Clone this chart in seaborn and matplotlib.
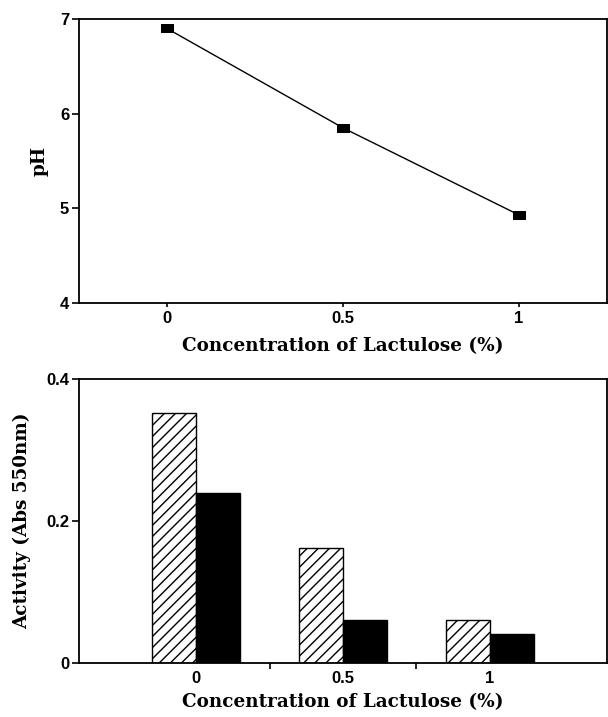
import matplotlib
matplotlib.use("Agg")
import matplotlib.pyplot as plt
import seaborn as sns
import pandas as pd

# ---- data ----
conc_values = [0, 0.5, 1]
ph_values = [6.9, 5.85, 4.93]

conc_labels = ["0", "0.5", "1"]
series_names = ["Hatched", "Solid"]
activity_hatched = [0.352, 0.162, 0.061]
activity_solid = [0.240, 0.061, 0.041]

ph_ticks = [4, 5, 6, 7]
act_ticks = [0, 0.2, 0.4]
act_tick_labels = ["0", "0.2", "0.4"]

sns.set_theme(style="white")
plt.rcParams["hatch.linewidth"] = 1.0
plt.rcParams["font.family"] = ["DejaVu Sans"]

TICK_FONT = dict(family="Liberation Sans", weight="bold", size=12)
LABEL_FONT = dict(family="DejaVu Serif", size=13.2, weight="semibold", color="black")

fig = plt.figure(figsize=(6.08, 7.17), dpi=100)
ax1 = fig.add_axes([0.1299, 0.5774, 0.8684, 0.3961])
ax2 = fig.add_axes([0.1299, 0.0753, 0.8684, 0.3961])

# ---- top: pH line ----
df_ph = pd.DataFrame({"conc": conc_values, "ph": ph_values})
rect = [(-1, -0.72), (1, -0.72), (1, 0.72), (-1, 0.72), (-1, -0.72)]
sns.lineplot(data=df_ph, x="conc", y="ph", ax=ax1, color="black", linewidth=1.0,
             marker=rect, markersize=8.5, markeredgecolor="black",
             markerfacecolor="black")
ax1.set_xlim(-0.25, 1.25)
ax1.set_ylim(4, 7)
ax1.set_xticks(conc_values)
ax1.set_xticklabels(conc_labels)
ax1.set_yticks(ph_ticks)
ax1.set_yticklabels([str(t) for t in ph_ticks])
ax1.set_xlabel("Concentration of Lactulose (%)", labelpad=8, **LABEL_FONT)
ax1.set_ylabel("pH", labelpad=8, **LABEL_FONT)

# ---- bottom: activity bars ----
df_act = pd.DataFrame({
    "conc": conc_labels * 2,
    "series": [series_names[0]] * 3 + [series_names[1]] * 3,
    "activity": activity_hatched + activity_solid,
})
sns.barplot(data=df_act, x="conc", y="activity", hue="series", order=conc_labels,
            hue_order=series_names, palette=["white", "black"], saturation=1,
            width=0.6, gap=0, edgecolor="black", linewidth=1.0, legend=False,
            errorbar=None, ax=ax2)
for bar in ax2.containers[0]:
    bar.set_hatch("///")
    bar.set_facecolor("white")
    bar.set_edgecolor("black")
ax2.set_xlim(-0.8, 2.8)
ax2.set_ylim(0, 0.4)
ax2.set_yticks(act_ticks)
ax2.set_yticklabels(act_tick_labels)
ax2.set_xticks([0, 1, 2])
ax2.set_xticklabels(conc_labels)
ax2.set_xticks([0.5, 1.5], minor=True)
ax2.tick_params(axis="x", which="major", length=0, pad=6)
ax2.tick_params(axis="x", which="minor", length=4, width=1.2, color="black",
                direction="out", bottom=True)
ax2.set_xlabel("Concentration of Lactulose (%)", labelpad=5, **LABEL_FONT)
ax2.set_ylabel("Activity (Abs 550nm)", labelpad=11, **LABEL_FONT)

for ax in (ax1, ax2):
    for s in ax.spines.values():
        s.set_visible(True)
        s.set_color("black")
        s.set_linewidth(1.3)
    ax.tick_params(axis="y", which="major", direction="out", length=5, width=1.2,
                   color="black", left=True, pad=2)
    for lab in ax.get_yticklabels() + ax.get_xticklabels():
        lab.set_fontfamily(TICK_FONT["family"])
        lab.set_fontweight(TICK_FONT["weight"])
        lab.set_fontsize(TICK_FONT["size"])
        lab.set_color("black")
    ax.grid(False)

ax1.tick_params(axis="x", which="major", direction="out", length=3, width=1.2,
                color="black", bottom=True, pad=3)

fig.savefig("out.png", dpi=100, facecolor="white")
